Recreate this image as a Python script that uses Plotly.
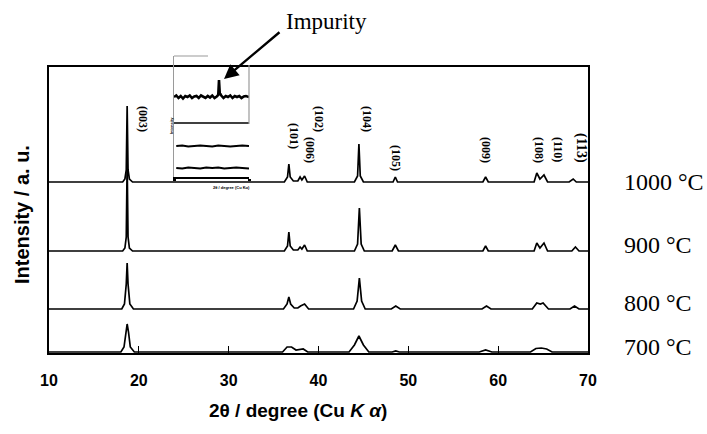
import plotly.graph_objects as go

# ---------------- data (2theta in degrees, intensity in arbitrary units) -------------
temps = ["1000 °C", "900 °C", "800 °C", "700 °C"]

x_1000 = [10, 18.2, 18.45, 18.6, 18.7, 18.8, 18.95, 19.3, 36.2, 36.55, 36.7, 36.85, 37.2, 37.7,
          37.95, 38.15, 38.45, 38.75, 44.0, 44.35, 44.5, 44.65, 45.0, 48.3, 48.55, 48.8,
          58.3, 58.6, 58.9, 64.0, 64.3, 64.65, 65.1, 65.5, 67.9, 68.35, 68.7, 70]
y_1000 = [0, 0, 3, 12, 76, 12, 3, 0, 0, 5, 18, 5, 1, 1,
          5, 2, 6, 0, 0, 6, 38, 6, 0, 0, 5, 0,
          0, 5, 0, 0, 9, 3, 7, 0, 0, 3, 0, 0]

x_900 = [10, 18.2, 18.45, 18.6, 18.7, 18.8, 18.95, 19.3, 36.2, 36.55, 36.7, 36.85, 37.2, 37.7,
         37.95, 38.15, 38.45, 38.75, 44.0, 44.35, 44.55, 44.75, 45.1, 48.2, 48.55, 48.9,
         58.3, 58.6, 58.9, 64.0, 64.3, 64.65, 65.1, 65.5, 68.2, 68.6, 69.0, 70]
y_900 = [0, 0, 3, 14, 88, 14, 3, 0, 0, 5, 19, 5, 1, 1,
         4, 2, 6, 0, 0, 7, 43, 7, 0, 0, 6, 0,
         0, 5, 0, 0, 8, 3, 8, 0, 0, 4, 0, 0]

x_800 = [10, 18.1, 18.4, 18.6, 18.7, 18.8, 19.0, 19.4, 36.1, 36.5, 36.7, 36.9, 37.3, 37.7,
         38.0, 38.45, 38.9, 43.9, 44.3, 44.55, 44.8, 45.2, 48.1, 48.6, 49.1,
         58.2, 58.7, 59.2, 63.8, 64.3, 64.7, 65.0, 65.6, 68.0, 68.5, 69.0, 70]
y_800 = [0, 0, 5, 25, 46, 25, 5, 0, 0, 5, 12, 5, 1, 1,
         3, 5, 0, 0, 8, 31, 8, 0, 0, 3, 0,
         0, 3, 0, 0, 6, 5, 6, 0, 0, 3, 0, 0]

x_700 = [10, 18.0, 18.35, 18.55, 18.7, 18.85, 19.05, 19.5, 36.0, 36.5, 37.0, 37.5, 38.3, 38.8,
         43.4, 44.0, 44.5, 45.0, 45.6, 48.2, 48.6, 49.0, 57.9, 58.6, 59.3,
         63.6, 64.2, 64.8, 65.4, 66.0, 70]
y_700 = [0, 0, 5, 20, 28, 20, 5, 0, 0, 5, 5, 2, 3, 0,
         0, 7, 16, 7, 0, 0, 1, 0, 0, 2, 0,
         0, 3.5, 4, 3, 0, 0]

peak_labels = ["(003)", "(101)", "(006)", "(102)", "(104)", "(105)", "(009)", "(108)", "(110)", "(113)"]

x_ticks = [10, 20, 30, 40, 50, 60, 70]

# inset (region around the impurity peak)
inset_x = [20.0, 20.3, 20.6, 20.9, 21.2, 21.5, 21.8, 22.1, 22.4, 22.7, 23.0, 23.3, 23.6, 23.9,
           24.2, 24.5, 24.8, 25.1, 25.4, 25.7, 25.9, 26.0, 26.1, 26.3, 26.6, 26.9, 27.2, 27.5,
           27.8, 28.1, 28.4, 28.7, 29.0, 29.3, 29.6, 30.0]
inset_top = [0, 1.5, -1, 1, -1.5, 1, 0, 1.5, -1, 0.5, 1, -1, 1.5, 0, -1, 1, -0.5, 1.5, -1, 0.5,
             2, 17, 4, 1.5, -1, 1, 0, 1.5, -1, 1, 0, 1, -1, 0.5, 1, 0]
inset_mid = [0, 0]
inset_low_x = [20.3, 21.1, 21.9, 22.7, 23.5, 24.3, 25.1, 25.9, 26.7, 27.5, 28.3, 29.1, 30.0]
inset_low1 = [0, 1, -1, 0, 1, 0, -1, 1, 0, -1, 0, 1, 0]
inset_low2 = [0, -1, 1, 0, -1, 1, 0, 1, -1, 0, 1, 0, -1]

# ---------------- layout helpers (pixels -> coordinates) ----------------
W, H = 707, 434
ML, MR, MT, MB = 49, 119, 50, 81
PW = W - ML - MR          # 539
PH = H - MT - MB          # 303
Y0 = H - MB               # 353 pixel row of paper y=0


def pxp(px):
    return (px - ML) / PW


def pyp(py):
    return (Y0 - py) / PH


offsets = [171, 102, 44, 1]
series = [(x_1000, y_1000), (x_900, y_900), (x_800, y_800), (x_700, y_700)]

fig = go.Figure()
for (xs, ys), off, name in zip(series, offsets, temps):
    fig.add_trace(go.Scatter(x=xs, y=[v + off for v in ys], mode="lines", name=name,
                             line=dict(color="black", width=1.7), showlegend=False,
                             hoverinfo="skip"))

# inset traces
inset_off = [80, 54, 31, 9]
fig.add_trace(go.Scatter(x=inset_x, y=[v + inset_off[0] for v in inset_top], mode="lines",
                         line=dict(color="black", width=2.6), xaxis="x2", yaxis="y2",
                         showlegend=False, hoverinfo="skip"))
fig.add_trace(go.Scatter(x=[20, 30], y=[v + inset_off[1] for v in inset_mid], mode="lines",
                         line=dict(color="black", width=1.6), xaxis="x2", yaxis="y2",
                         showlegend=False, hoverinfo="skip"))
fig.add_trace(go.Scatter(x=inset_low_x, y=[v * 0.5 + inset_off[2] for v in inset_low1], mode="lines",
                         line=dict(color="black", width=2.0), xaxis="x2", yaxis="y2",
                         showlegend=False, hoverinfo="skip"))
fig.add_trace(go.Scatter(x=inset_low_x, y=[v * 0.5 + inset_off[3] for v in inset_low2], mode="lines",
                         line=dict(color="black", width=2.0), xaxis="x2", yaxis="y2",
                         showlegend=False, hoverinfo="skip"))

serif = "Liberation Serif, Times New Roman, serif"
sans = "Liberation Sans, Arial, sans-serif"

annotations = []
# peak labels (pixel centres)
label_pos = [(143, 119, 12), (294, 136, 12), (310, 150, 12), (319, 119, 12), (367, 119, 12),
             (396, 158, 12), (486, 150, 12), (539, 150, 12), (558, 149, 12), (581, 148, 14)]
for txt, (px, py, fs) in zip(peak_labels, label_pos):
    annotations.append(dict(x=pxp(px), y=pyp(py), xref="paper", yref="paper", text=txt,
                            textangle=90, showarrow=False, xanchor="center", yanchor="middle",
                            font=dict(family=serif, size=fs, color="black", weight="bold")))

# temperature labels
temp_py = [182, 245, 303, 347]
for txt, py in zip(temps, temp_py):
    annotations.append(dict(x=pxp(622), y=pyp(py), xref="paper", yref="paper", text=txt,
                            showarrow=False, xanchor="left", yanchor="middle",
                            font=dict(family=serif, size=24, color="black")))

# impurity label + arrow
annotations.append(dict(x=pxp(326), y=pyp(22), xref="paper", yref="paper", text="Impurity",
                        showarrow=False, xanchor="center", yanchor="middle",
                        font=dict(family=serif, size=23, color="black")))
annotations.append(dict(x=pxp(224), y=pyp(79), xref="paper", yref="paper", text="",
                        showarrow=True, ax=57, ay=-48, arrowhead=2, arrowsize=1.2,
                        arrowwidth=2.4, arrowcolor="black"))

# axis titles
annotations.append(dict(x=pxp(298), y=pyp(410), xref="paper", yref="paper",
                        text="2θ / degree (Cu <i>K α</i>)", showarrow=False,
                        xanchor="center", yanchor="middle",
                        font=dict(family=sans, size=19, color="black", weight="bold")))
annotations.append(dict(x=pxp(22), y=pyp(215), xref="paper", yref="paper",
                        text="Intensity / a. u.", showarrow=False, textangle=-90,
                        xanchor="center", yanchor="middle",
                        font=dict(family=sans, size=20, color="black", weight="bold")))

# tiny inset axis texts
annotations.append(dict(x=pxp(211), y=pyp(187), xref="paper", yref="paper",
                        text="2θ / degree (Cu Kα)", showarrow=False,
                        font=dict(family=sans, size=4, color="black", weight="bold")))
annotations.append(dict(x=pxp(167), y=pyp(115), xref="paper", yref="paper",
                        text="Intensity", showarrow=False, textangle=-90,
                        font=dict(family=sans, size=4, color="black", weight="bold")))

shapes = [
    dict(type="line", xref="paper", yref="paper", x0=pxp(174), x1=pxp(208), y0=pyp(56), y1=pyp(56),
         line=dict(color="#9a9a9a", width=1.2)),
    dict(type="line", xref="paper", yref="paper", x0=pxp(249), x1=pxp(249), y0=pyp(65), y1=pyp(124),
         line=dict(color="#9a9a9a", width=1.2)),
]

fig.update_layout(
    width=W, height=H,
    margin=dict(l=ML, r=MR, t=MT, b=MB, pad=0),
    paper_bgcolor="white", plot_bgcolor="rgba(0,0,0,0)",
    xaxis=dict(range=[10, 70], tickvals=x_ticks, ticks="inside", ticklen=7, tickwidth=1.2,
               tickcolor="black", showline=True, mirror=True, linecolor="black", linewidth=2,
               showgrid=False, zeroline=False, ticklabelstandoff=12,
               tickfont=dict(family=sans, size=16, color="black", weight="bold")),
    yaxis=dict(range=[0, 286], domain=[0, 286 / PH], showticklabels=False, ticks="",
               showline=True, mirror=True, linecolor="black", linewidth=2,
               showgrid=False, zeroline=False),
    xaxis2=dict(range=[20, 30], domain=[pxp(174), pxp(249)], anchor="y2", tickvals=[20, 30],
                ticks="outside", ticklen=2, tickwidth=3, tickcolor="black",
                showticklabels=False, showline=True, linecolor="black", linewidth=1.5,
                showgrid=False, zeroline=False),
    yaxis2=dict(range=[0, 121], domain=[pyp(177), pyp(56)], anchor="x2",
                showticklabels=False, ticks="", showline=True, linecolor="#9a9a9a",
                linewidth=1.2, showgrid=False, zeroline=False),
    annotations=annotations,
    shapes=shapes,
)

fig.write_html("out.html")
